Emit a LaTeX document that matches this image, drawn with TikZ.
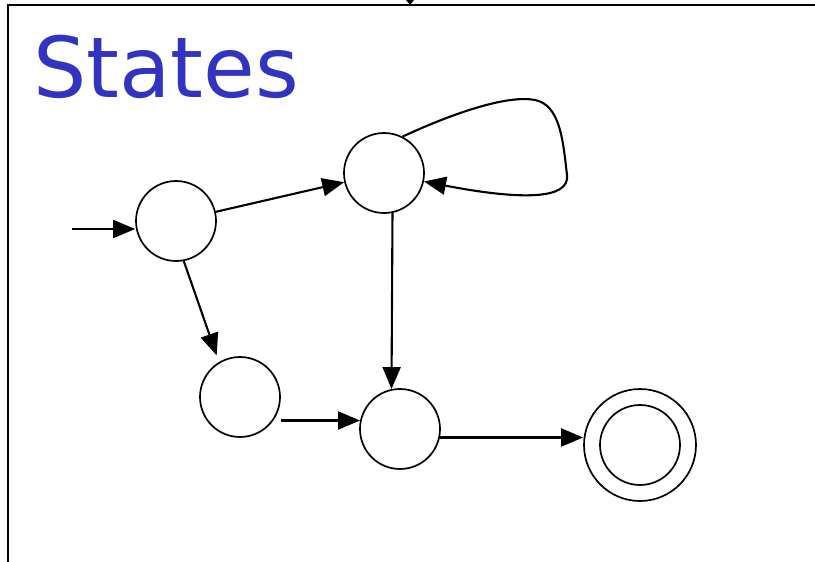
\documentclass[tikz,border=0pt]{standalone}
\usepackage{fontspec}
\newfontfamily\titlefont{DejaVu Sans}
\usetikzlibrary{arrows.meta}
\begin{document}
\begin{tikzpicture}[x=1pt,y=-1pt,
  state/.style={draw,circle,line width=1.7pt,minimum size=80pt,inner sep=0pt},
  trans/.style={line width=2.1pt,-{Triangle[length=22pt,width=18pt]}}]
\useasboundingbox (0,0) rectangle (815,562);
% frame
\draw[line width=2.2pt] (8,562) -- (8,5) -- (815,5);
\fill (406,0) -- (414,0) -- (410,5) -- cycle;
\node[anchor=base west,inner sep=0pt,text=blue!70!black!80!white] (title) at (33,97)
  {\titlefont\fontsize{84}{90}\selectfont States};
% states
\node[state] (A) at (176,221) {};
\node[state] (B) at (384,173) {};
\node[state] (C) at (240,397) {};
\node[state] (D) at (400,429) {};
\node[state,minimum size=112pt] (F) at (640,445) {};
\node[state] (Fin) at (F) {};
\coordinate (start) at (72,229);
% transitions
\draw[trans] (start) -- (start -| A.west);
\draw[trans] (A) -- (B);
\draw[trans,shorten >=7pt] (A.-79) -- (C.121);
\draw[trans] (B.-78) -- (D.102);
\draw[trans] (D.168 -| C.east) -- (D.168);
\draw[trans] (D.-12) -- (D.-12 -| F.west);
\draw[trans] (B.63) .. controls (460,110) and (510,95) .. (535,100)
  .. controls (560,105) and (563,140) .. (567,175)
  .. controls (570,200) and (520,200) .. (B.-12);
\end{tikzpicture}
\end{document}
